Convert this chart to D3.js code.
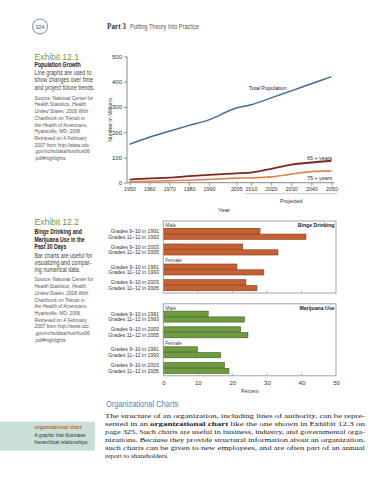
<!DOCTYPE html>
<html><head><meta charset="utf-8">
<script src="https://cdn.jsdelivr.net/npm/d3@7"></script>
<style>html,body{margin:0;padding:0;background:#fff;}svg{display:block;}</style>
</head><body>
<svg id="c" width="380" height="480"></svg>
<script>
// ---------- DATA ----------
const years = [1950,1960,1970,1980,1990,2005,2010,2020,2030,2040,2050];
const yearTicks = [1950,1960,1970,1980,1990,2005,2010,2020,2030,2040,2050];
const totalPop = [152,180,204,227,249,296,309,336,364,392,420];
const age65 = [12,17,20,26,31,37,40,55,72,80,87];
const age75 = [4,6,8,10,13,18,19,23,34,44,47];
const popTicks = [0,100,200,300,400,500];

const gradeLabels = ["Grades 9\u201310 in 1991","Grades 11\u201312 in 1993","Grades 9\u201310 in 2003","Grades 11\u201312 in 2005"];
const sexes = ["Male","Female"];
const bingeMale = [28.0,41.3,23.0,33.2];
const bingeFemale = [21.3,29.1,23.9,27.1];
const marijMale = [13.0,23.5,22.4,24.5];
const marijFemale = [9.9,16.6,17.7,19.0];
const pctTicks = [0,10,20,30,40,50];

// ---------- HELPERS ----------
const svg = d3.select("#c");
const SANS = "'Liberation Sans', Arial, sans-serif";
const SERIF = "'Liberation Serif', 'Times New Roman', serif";
function squeeze(sel, k){
  sel.each(function(){
    const w = this.getComputedTextLength();
    if (w > 0){ this.setAttribute("textLength", (w*k).toFixed(2)); this.setAttribute("lengthAdjust","spacingAndGlyphs"); }
  });
  return sel;
}
function txt(x, y, s, o){
  o = o || {};
  const t = svg.append("text").attr("x", x).attr("y", y)
    .attr("font-family", o.family || SANS).attr("font-size", o.size || 6)
    .attr("fill", o.fill || "#333").attr("text-anchor", o.anchor || "start");
  if (o.weight) t.attr("font-weight", o.weight);
  if (o.style) t.attr("font-style", o.style);
  if (Array.isArray(s)) {
    s.forEach(p => { const sp = t.append("tspan").text(p.t); if (p.i) sp.attr("font-style","italic"); if (p.b) sp.attr("font-weight","bold"); });
  } else t.text(s);
  if (o.k) squeeze(t, o.k);
  return t;
}
// mixed-style line, horizontally condensed with a group transform
function mixed(x, y, parts, o){
  const g = svg.append("g").attr("transform", `translate(${x},${y}) scale(${o.k || 1},1)`);
  const t = g.append("text").attr("x", 0).attr("y", 0)
    .attr("font-family", SANS).attr("font-size", o.size).attr("fill", o.fill);
  parts.forEach(p => { const sp = t.append("tspan").text(p.t); if (p.i) sp.attr("font-style","italic"); });
}

// ---------- PAGE HEADER ----------
svg.append("circle").attr("cx",40).attr("cy",26.5).attr("r",7.5).attr("fill","none").attr("stroke","#4f73a8").attr("stroke-width",0.8);
txt(40, 28.5, "324", {size:5.4, anchor:"middle", fill:"#34507c"});
txt(107, 29, "Part 3", {family:SERIF, size:7.2, weight:"bold", fill:"#333"});
txt(130, 29, "Putting Theory Into Practice", {size:6.6, fill:"#555", k:0.85});

// ---------- LEFT COLUMN: EXHIBIT 12.1 ----------
const LX = 34.5;
txt(LX, 59.5, "Exhibit 12.1", {size:8.5, fill:"#6f9c45"});
txt(LX, 66.5, "Population Growth", {size:6.3, weight:"bold", fill:"#222", k:0.82});
["Line graphs are used to","show changes over time","and project future trends."].forEach((s,i)=>
  txt(LX, 74.5 + 7.7*i, s, {size:6.3, fill:"#444", k:0.86}));
const srcLines = [
  [{t:"Source: National Center for"}],
  [{t:"Health Statistics, "},{t:"Health,",i:1}],
  [{t:"United States, 2006 With",i:1}],
  [{t:"Chartbook on Trends in",i:1}],
  [{t:"the Health of Americans,",i:1}],
  [{t:"Hyattsville, MD: 2006"}],
  [{t:"Retrieved on 4 February"}],
  [{t:"2007 from http://www.cdc"}],
  [{t:".gov/nchs/data/hus/hus06"}],
  [{t:".pdf#highlights"}]
];
srcLines.forEach((s,i)=> mixed(LX, 99.7 + 6.7*i, s, {size:5.4, fill:"#555", k:0.9}));

// ---------- LEFT COLUMN: EXHIBIT 12.2 ----------
txt(LX, 225, "Exhibit 12.2", {size:8.5, fill:"#6f9c45"});
["Binge Drinking and","Marijuana Use in the","Past 30 Days"].forEach((s,i)=>
  txt(LX, 234.2 + 7.5*i, s, {size:6.3, weight:"bold", fill:"#222", k:0.82}));
["Bar charts are useful for","visualizing and compar-","ing numerical data."].forEach((s,i)=>
  txt(LX, 257.5 + 7.4*i, s, {size:6.3, fill:"#444", k:0.86}));
srcLines.forEach((s,i)=> mixed(LX, 281.4 + 6.7*i, s, {size:5.4, fill:"#555", k:0.9}));

// ---------- SIDEBAR GLOSSARY ----------
svg.append("rect").attr("x",0).attr("y",421.7).attr("width",95).attr("height",29).attr("fill","#cadfd8");
txt(LX, 428.7, "organizational chart", {size:6.2, weight:"bold", fill:"#c4642e", k:0.8});
txt(LX, 436.6, "A graphic that illustrates", {size:6, fill:"#333", k:0.8});
txt(LX, 444.4, "hierarchical relationships.", {size:6, fill:"#333", k:0.8});

// ---------- LINE CHART ----------
const x1 = d3.scaleLinear().domain([1950,1990,2005,2010,2050]).range([129.5,209,236.3,251,331.5]);
const y1 = d3.scaleLinear().domain([0,500]).range([182.7,56.5]);

const gy = svg.append("g").attr("transform","translate(127,0)")
  .call(d3.axisLeft(y1).tickValues(popTicks).tickSize(3).tickSizeOuter(0).tickPadding(2));
gy.select(".domain").remove();
gy.selectAll("line").attr("stroke","#555").attr("stroke-width",0.6);
gy.selectAll("text").attr("font-family",SANS).attr("font-size",6).attr("fill","#333");

const gx = svg.append("g").attr("transform","translate(0,182.7)")
  .call(d3.axisBottom(x1).tickValues(yearTicks).tickFormat(d3.format("d")).tickSize(3).tickSizeOuter(0).tickPadding(1.5));
gx.select(".domain").remove();
gx.selectAll("line").attr("stroke","#555").attr("stroke-width",0.6);
gx.selectAll("text").attr("font-family",SANS).attr("font-size",6).attr("fill","#333").call(squeeze, 0.88);

svg.append("line").attr("x1",127).attr("x2",127).attr("y1",y1(500)).attr("y2",y1(0)).attr("stroke","#555").attr("stroke-width",0.7);
svg.append("line").attr("x1",127).attr("x2",334).attr("y1",y1(0)).attr("y2",y1(0)).attr("stroke","#555").attr("stroke-width",0.7);
svg.append("line").attr("x1",x1(2010)-6).attr("x2",x1(2050)+6).attr("y1",193.6).attr("y2",193.6).attr("stroke","#999").attr("stroke-width",0.5);
txt((x1(2030)), 202.5, "Projected", {size:6, anchor:"middle", fill:"#333", k:0.88});
txt(224, 211.5, "Year", {size:6, anchor:"middle", fill:"#333"});
svg.append("text").attr("transform","translate(111.5,120) rotate(-90)")
  .attr("text-anchor","middle").attr("font-family",SANS).attr("font-size",6.2).attr("fill","#333")
  .text("Number in Millions").call(squeeze,0.86);

const line = d3.line().x((d,i)=>x1(years[i])).y(d=>y1(d)).curve(d3.curveMonotoneX);
svg.append("path").datum(age75).attr("d",line).attr("fill","none").attr("stroke","#e2854e").attr("stroke-width",1.6);
svg.append("path").datum(age65).attr("d",line).attr("fill","none").attr("stroke","#7a2a1c").attr("stroke-width",1.8);
svg.append("path").datum(totalPop).attr("d",line).attr("fill","none").attr("stroke","#3f6c98").attr("stroke-width",1.4);

txt(249, 90, "Total Population", {size:6, fill:"#222", k:0.88});
txt(332.3, 159.5, "65 + years", {size:6, anchor:"end", fill:"#333", k:0.9});
txt(332.3, 180, "75 + years", {size:6, anchor:"end", fill:"#333", k:0.9});

// ---------- BAR CHARTS ----------
const xb = d3.scaleLinear().domain([0,50]).range([163.3,336]);
const sexBand = d3.scaleBand().domain(sexes).range([0,71.4]);
const pairBand = d3.scaleBand().domain([0,1]).range([7.3,34]).paddingInner(0.3);
const barBand = d3.scaleBand().domain([0,1]).range([0,11]).paddingInner(0.1);
const BOXH = 72;

function barChart(top, title, male, female, fill, stroke){
  const g = svg.append("g");
  const rows = [];
  [male, female].forEach((vals, si) => vals.forEach((v, r) => rows.push({sex: sexes[si], r, v, label: gradeLabels[r]})));
  const yOf = d => top + sexBand(d.sex) + pairBand(Math.floor(d.r/2)) + barBand(d.r % 2);
  g.selectAll("rect.bar").data(rows).join("rect").attr("class","bar")
    .attr("x", xb(0)).attr("y", yOf).attr("width", d => xb(d.v) - xb(0)).attr("height", barBand.bandwidth())
    .attr("fill", fill).attr("stroke", stroke).attr("stroke-width", 0.6);
  g.selectAll("text.lab").data(rows).join("text").attr("class","lab")
    .attr("x", 159).attr("y", d => yOf(d) + barBand.bandwidth()/2 + 2)
    .attr("text-anchor","end").attr("font-family",SANS).attr("font-size",6).attr("fill","#333")
    .text(d => d.label).call(squeeze, 0.86);
  g.append("rect").attr("x", xb(0)).attr("y", top).attr("width", xb(50)-xb(0)).attr("height", BOXH)
    .attr("fill","none").attr("stroke","#9a9a9a").attr("stroke-width",0.9);
  g.selectAll("line.tk").data(pctTicks.slice(1,-1)).join("line").attr("class","tk")
    .attr("x1", d=>xb(d)).attr("x2", d=>xb(d)).attr("y1", top+BOXH).attr("y2", top+BOXH-2.5)
    .attr("stroke","#888").attr("stroke-width",0.6);
  sexes.forEach(s => {
    g.append("text").attr("x", xb(0)+2).attr("y", top + sexBand(s) + 5.7)
      .attr("font-family",SANS).attr("font-size",5.5).attr("fill","#444").text(s).call(squeeze,0.9);
  });
  g.append("text").attr("x", xb(50)-1.5).attr("y", top + 5.7).attr("text-anchor","end")
    .attr("font-family",SANS).attr("font-size",6).attr("font-weight","bold").attr("fill","#222")
    .text(title).call(squeeze,0.86);
}
barChart(221, "Binge Drinking", bingeMale, bingeFemale, "#c8612f", "#7b3416");
barChart(303.8, "Marijuana Use", marijMale, marijFemale, "#6e9b3e", "#3c5b22");

const gb = svg.append("g").attr("transform","translate(0,375.8)")
  .call(d3.axisBottom(xb).tickValues(pctTicks).tickSize(0).tickPadding(5));
gb.select(".domain").remove();
gb.selectAll("text").attr("font-family",SANS).attr("font-size",6).attr("fill","#333");
txt((xb(0)+xb(50))/2, 393, "Percent", {size:5.6, anchor:"middle", fill:"#333", k:0.9});

// ---------- BODY TEXT ----------
txt(106, 407, "Organizational Charts", {size:8.3, fill:"#4a86c2", k:0.9});
const body = [
  [{t:"The structure of an organization, including lines of authority, can be repre-"}],
  [{t:"sented in an "},{t:"organizational chart",b:1},{t:" like the one shown in Exhibit 12.3 on"}],
  [{t:"page 325. Such charts are useful in business, industry, and governmental orga-"}],
  [{t:"nizations. Because they provide structural information about an organization,"}],
  [{t:"such charts can be given to new employees, and are often part of an annual"}],
  [{t:"report to shareholders."}]
];
body.forEach((s,i) => {
  const t = txt(105, 417.5 + 8*i, s, {family:SERIF, size:7.1, fill:"#222"});
  if (i < 5) t.attr("textLength", 260).attr("lengthAdjust","spacingAndGlyphs");
});
</script>
</body></html>
